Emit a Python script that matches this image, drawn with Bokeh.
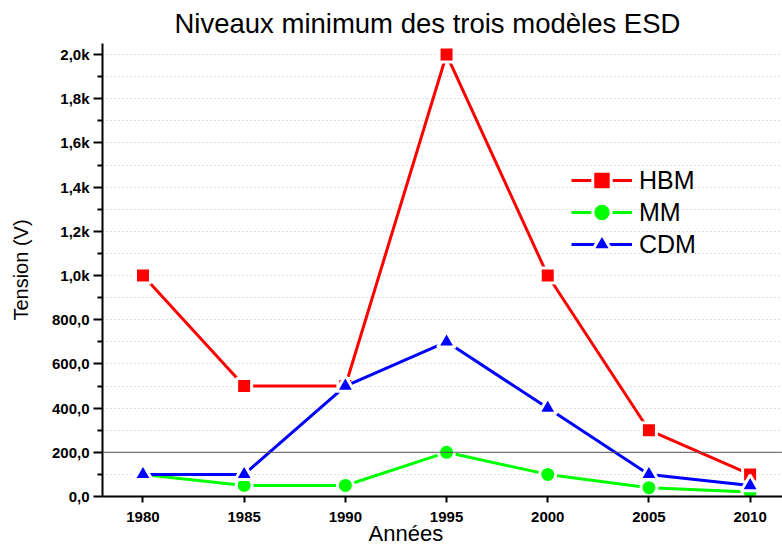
from bokeh.plotting import figure
from bokeh.models import FixedTicker, Span, Legend, LegendItem
from bokeh.embed import file_html
from bokeh.resources import INLINE

years = [1980, 1985, 1990, 1995, 2000, 2005, 2010]
hbm = [1000, 500, 500, 2000, 1000, 300, 100]
mm = [100, 50, 50, 200, 100, 40, 20]
cdm = [100, 100, 500, 700, 400, 100, 50]

y_major = [0, 200, 400, 600, 800, 1000, 1200, 1400, 1600, 1800, 2000]
y_minor = [100, 300, 500, 700, 900, 1100, 1300, 1500, 1700, 1900]
y_labels = ["0,0", "200,0", "400,0", "600,0", "800,0", "1,0k", "1,2k", "1,4k", "1,6k", "1,8k", "2,0k"]

FONT = "Liberation Sans"
X0, X1 = 1978.0, 2011.6
Y0, Y1 = 0, 2050
FW, FH = 680, 453

p = figure(frame_width=FW, frame_height=FH,
           x_range=(X0, X1), y_range=(Y0, Y1),
           output_backend="svg", toolbar_location=None,
           min_border_left=102, min_border_top=39, min_border_bottom=50, min_border_right=0)
p.outline_line_color = None
p.background_fill_color = "white"

p.title.text = "Niveaux minimum des trois modèles ESD"
p.title.text_font = FONT
p.title.text_font_size = "27.5px"
p.title.text_font_style = "normal"
p.title.text_color = "black"
p.title.align = "left"
p.title.offset = 72

p.xaxis.ticker = FixedTicker(ticks=years)
p.xaxis.major_label_text_font = FONT
p.xaxis.major_label_text_font_style = "bold"
p.xaxis.major_label_text_font_size = "15px"
p.xaxis.major_label_text_color = "black"
p.xaxis.axis_line_width = 2
p.xaxis.major_tick_line_width = 2
p.xaxis.major_tick_out = 6
p.xaxis.major_tick_in = 0
p.xaxis.minor_tick_line_color = None
p.xaxis.major_label_standoff = 9
# trailing no-break spaces shift the centred title left, as in the reference
p.xaxis.axis_label = "Années" + "\u00a0" * 12
p.xaxis.axis_label_text_font = FONT
p.xaxis.axis_label_text_font_size = "22px"
p.xaxis.axis_label_text_font_style = "normal"
p.xaxis.axis_label_text_color = "black"
p.xaxis.axis_label_standoff = -4

p.yaxis.ticker = FixedTicker(ticks=y_major, minor_ticks=y_minor)
p.yaxis.major_label_overrides = {v: s for v, s in zip(y_major, y_labels)}
p.yaxis.major_label_text_font = FONT
p.yaxis.major_label_text_font_style = "bold"
p.yaxis.major_label_text_font_size = "15px"
p.yaxis.major_label_text_color = "black"
p.yaxis.axis_line_width = 2
p.yaxis.major_tick_line_width = 2
p.yaxis.minor_tick_line_width = 2
p.yaxis.major_tick_out = 9
p.yaxis.major_tick_in = 0
p.yaxis.minor_tick_out = 5
p.yaxis.minor_tick_in = 0
p.yaxis.major_label_standoff = 4
p.yaxis.axis_label = "Tension (V)"
p.yaxis.axis_label_text_font = FONT
p.yaxis.axis_label_text_font_size = "20px"
p.yaxis.axis_label_text_font_style = "normal"
p.yaxis.axis_label_text_color = "black"
p.yaxis.axis_label_standoff = 17

p.xgrid.grid_line_color = None
p.ygrid.grid_line_color = "#bdbdbd"
p.ygrid.grid_line_dash = "1 3"
p.ygrid.minor_grid_line_color = "#bdbdbd"
p.ygrid.minor_grid_line_dash = "1 3"

p.add_layout(Span(location=200, dimension="width", line_color="#555555", line_width=1))

l1 = p.line(years, hbm, line_color="#ff0000", line_width=3)
s1 = p.scatter(years, hbm, marker="square", size=15, fill_color="#ff0000", line_color="white", line_width=3)
l2 = p.line(years, mm, line_color="#00ff00", line_width=3)
s2 = p.scatter(years, mm, marker="circle", size=16, fill_color="#00ff00", line_color="white", line_width=3)
l3 = p.line(years, cdm, line_color="#0000ff", line_width=3)
s3 = p.scatter(years, cdm, marker="triangle", size=18, fill_color="#0000ff", line_color="white", line_width=3)

entries = [("HBM", [l1, s1]), ("MM", [l2, s2]), ("CDM", [l3, s3])]
for i, (lab, rends) in enumerate(entries):
    lg = Legend(items=[LegendItem(label=lab, renderers=rends)], location=(469, 293 - 32 * i))
    lg.label_text_font = FONT
    lg.label_text_font_size = "25px"
    lg.label_text_color = "black"
    lg.glyph_width = 61
    lg.glyph_height = 46
    lg.label_height = 46
    lg.label_standoff = 7
    lg.padding = 5
    lg.margin = 0
    lg.border_line_color = None
    lg.background_fill_alpha = 0
    p.add_layout(lg)

open("out.html", "w").write(file_html(p, INLINE))
